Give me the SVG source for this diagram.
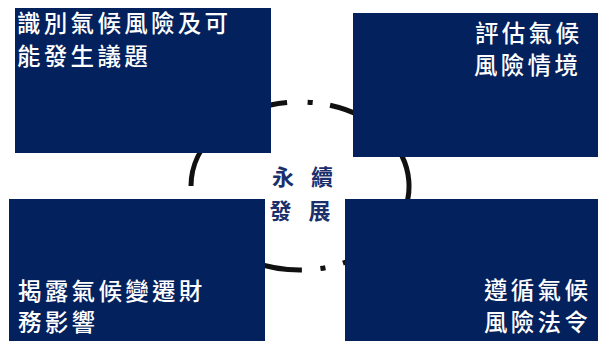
<svg xmlns="http://www.w3.org/2000/svg" width="598" height="341" viewBox="0 0 598 341">
<style>
.box{fill:#03215d}
.lbl{fill:#ffffff;font-family:"Noto Sans CJK TC","Noto Sans CJK SC",sans-serif;font-size:23.5px;font-weight:500;letter-spacing:3.3px}
.ctr{fill:#1a2f6b;font-family:"Noto Sans CJK TC","Noto Sans CJK SC",sans-serif;font-size:22px;font-weight:700}
.arc{fill:none;stroke:#111111;stroke-width:5;stroke-linecap:butt}
</style>
<rect width="598" height="341" fill="#ffffff"/>
<g id="connectors">
<path class="arc" d="M330.04,105.25 A109,84 0 0 1 342.94,263.21"/>
<path class="arc" d="M325.44,267.68 A109,84 0 0 1 320.43,268.51"/>
<path class="arc" d="M301.9,270 A109,84 0 0 1 194.7,207.7"/>
<path class="arc" d="M191,186 A109,84 0 0 1 287.1,102.59"/>
<path class="arc" d="M307.6,102.2 A109,84 0 0 1 312.7,102.57"/>
</g>
<g id="center">
<text class="ctr" x="272 293 311" y="185">永 續</text>
<text class="ctr" x="269.5 290 308.5" y="219">發 展</text>
</g>
<g id="identify">
<rect class="box" x="15" y="8" width="256" height="145"/>
<text class="lbl" x="17" y="32">識別氣候風險及可</text>
<text class="lbl" x="17" y="65">能發生議題</text>
</g>
<g id="assess">
<rect class="box" x="353" y="13" width="245" height="144"/>
<text class="lbl" x="475" y="42">評估氣候</text>
<text class="lbl" x="474" y="73.5">風險情境</text>
</g>
<g id="disclose">
<rect class="box" x="9" y="199" width="256" height="142"/>
<text class="lbl" x="18" y="299.5">揭露氣候變遷財</text>
<text class="lbl" x="18" y="331">務影響</text>
</g>
<g id="comply">
<rect class="box" x="345" y="199" width="253" height="142"/>
<text class="lbl" x="484" y="298.5">遵循氣候</text>
<text class="lbl" x="484" y="330.5">風險法令</text>
</g>
</svg>
